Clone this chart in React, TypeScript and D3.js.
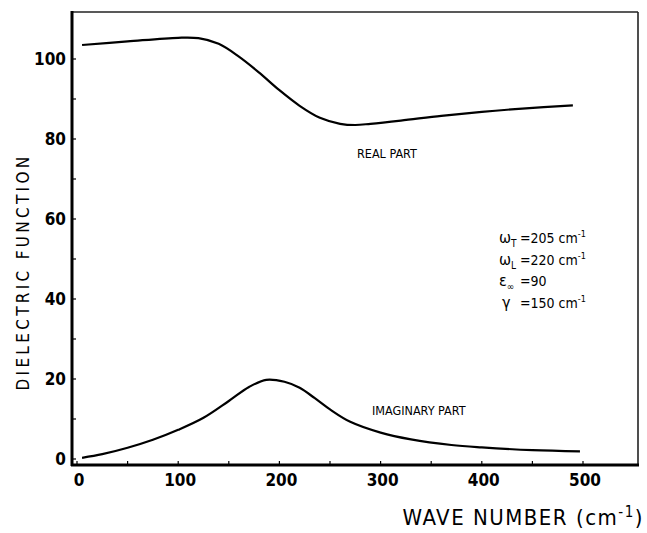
import React, { useEffect, useRef } from "react";
import * as d3 from "d3";

// values
const realWave = [5, 50, 100, 120, 140, 160, 180, 200, 220, 240, 260, 275, 290, 320, 360, 400, 440, 490];
const realValue = [103.5, 104.4, 105.3, 105.2, 103.8, 100.6, 96.6, 92.2, 88.3, 85.3, 83.8, 83.5, 83.8, 84.6, 85.8, 86.8, 87.6, 88.4];

const imagWave = [5, 25, 50, 75, 100, 125, 150, 170, 187, 205, 220, 235, 250, 270, 300, 330, 370, 400, 450, 497];
const imagValue = [0.3, 1.2, 2.8, 4.8, 7.3, 10.3, 14.5, 18, 19.8, 19.3, 17.8, 15.2, 12.4, 9.3, 6.6, 4.9, 3.5, 2.9, 2.2, 1.9];

const xTicks = [0, 100, 200, 300, 400, 500];
const xMinor = [50, 150, 250, 350, 450];
const yTicks = [0, 20, 40, 60, 80, 100];
const yMinor = [10, 30, 50, 70, 90];

const paramSym = ["ω", "ω", "ε", "γ"];
const paramSub = ["T", "L", "∞", ""];
const paramText = ["=205 cm", "=220 cm", "=90", "=150 cm"];
const paramSup = ["-1", "-1", "", "-1"];

const FONT = "'DejaVu Sans Condensed', 'DejaVu Sans', sans-serif";

const App = () => {
  const ref = useRef<SVGSVGElement>(null);

  useEffect(() => {
    const width = 647;
    const height = 533;
    const left = 72, right = 638, top = 12, bottom = 465;

    const svg = d3.select(ref.current);
    svg.selectAll("*").remove();
    svg.attr("width", width).attr("height", height);

    const x = d3.scaleLinear().domain([0, 500]).range([77, 583]);
    const y = d3.scaleLinear().domain([0, 100]).range([459, 59]);

    // frame
    svg.append("line").attr("x1", left).attr("x2", right).attr("y1", top).attr("y2", top)
      .attr("stroke", "#222").attr("stroke-width", 1.6);
    svg.append("line").attr("x1", right).attr("x2", right).attr("y1", top).attr("y2", bottom)
      .attr("stroke", "#222").attr("stroke-width", 1.6);
    svg.append("line").attr("x1", left).attr("x2", left).attr("y1", top - 1).attr("y2", bottom + 1)
      .attr("stroke", "#000").attr("stroke-width", 3);
    svg.append("line").attr("x1", left - 1).attr("x2", right + 1).attr("y1", bottom).attr("y2", bottom)
      .attr("stroke", "#000").attr("stroke-width", 3);

    // ticks (inward)
    svg.selectAll(".xt").data([...xTicks, ...xMinor]).enter().append("line")
      .attr("x1", (d) => x(d)).attr("x2", (d) => x(d))
      .attr("y1", bottom).attr("y2", bottom - 4)
      .attr("stroke", "#000").attr("stroke-width", 1.2);
    svg.selectAll(".yt").data([...yTicks, ...yMinor]).enter().append("line")
      .attr("x1", left).attr("x2", left + 4)
      .attr("y1", (d) => y(d)).attr("y2", (d) => y(d))
      .attr("stroke", "#000").attr("stroke-width", 1.2);

    // tick labels
    svg.selectAll(".xl").data(xTicks).enter().append("text")
      .attr("x", (d) => x(d) + 2).attr("y", 486)
      .attr("text-anchor", "middle")
      .attr("font-family", FONT).attr("font-weight", "bold").attr("font-size", 17)
      .text((d) => d);
    svg.selectAll(".yl").data(yTicks).enter().append("text")
      .attr("x", 66).attr("y", (d) => y(d) + 6)
      .attr("text-anchor", "end")
      .attr("font-family", FONT).attr("font-weight", "bold").attr("font-size", 17)
      .text((d) => d);

    // axis titles
    svg.append("text")
      .attr("transform", "translate(29,272) rotate(-90)")
      .attr("text-anchor", "middle")
      .attr("font-family", FONT).attr("font-size", 17).attr("letter-spacing", 3.3)
      .text("DIELECTRIC  FUNCTION");

    const xt = svg.append("text")
      .attr("x", 644).attr("y", 525)
      .attr("text-anchor", "end")
      .attr("font-family", FONT).attr("font-size", 22).attr("letter-spacing", 1.5);
    xt.append("tspan").text("WAVE NUMBER (cm");
    xt.append("tspan").attr("dy", -8).attr("font-size", 15).text("-1");
    xt.append("tspan").attr("dy", 8).text(")");

    // curves
    const line = d3.line<[number, number]>()
      .x((d) => x(d[0])).y((d) => y(d[1]))
      .curve(d3.curveCatmullRom.alpha(0.5));

    svg.append("path")
      .datum(realWave.map((w, i) => [w, realValue[i]] as [number, number]))
      .attr("d", line).attr("fill", "none").attr("stroke", "#000").attr("stroke-width", 2.2);
    svg.append("path")
      .datum(imagWave.map((w, i) => [w, imagValue[i]] as [number, number]))
      .attr("d", line).attr("fill", "none").attr("stroke", "#000").attr("stroke-width", 2.2);

    // curve labels
    svg.append("text").attr("x", 357).attr("y", 158)
      .attr("font-family", FONT).attr("font-size", 12.5).text("REAL PART");
    svg.append("text").attr("x", 372).attr("y", 415)
      .attr("font-family", FONT).attr("font-size", 12.5).text("IMAGINARY PART");

    // parameters
    paramSym.forEach((s, i) => {
      const yy = 243 + i * 21.5;
      const g = svg.append("text").attr("x", s === "γ" ? 502 : 499).attr("y", yy)
        .attr("font-family", FONT).attr("font-size", 16);
      g.append("tspan").text(s);
      if (paramSub[i]) g.append("tspan").attr("dy", 4).attr("font-size", 10).text(paramSub[i]);
      const t = svg.append("text").attr("x", 520).attr("y", yy)
        .attr("font-family", FONT).attr("font-size", 14);
      t.append("tspan").text(paramText[i]);
      if (paramSup[i]) t.append("tspan").attr("dy", -6).attr("font-size", 9).text(paramSup[i]);
    });
  }, []);

  return (
    <div style={{ position: "absolute", left: 0, top: 0, background: "#fff" }}>
      <svg ref={ref} style={{ display: "block" }}></svg>
    </div>
  );
};

export default App;
